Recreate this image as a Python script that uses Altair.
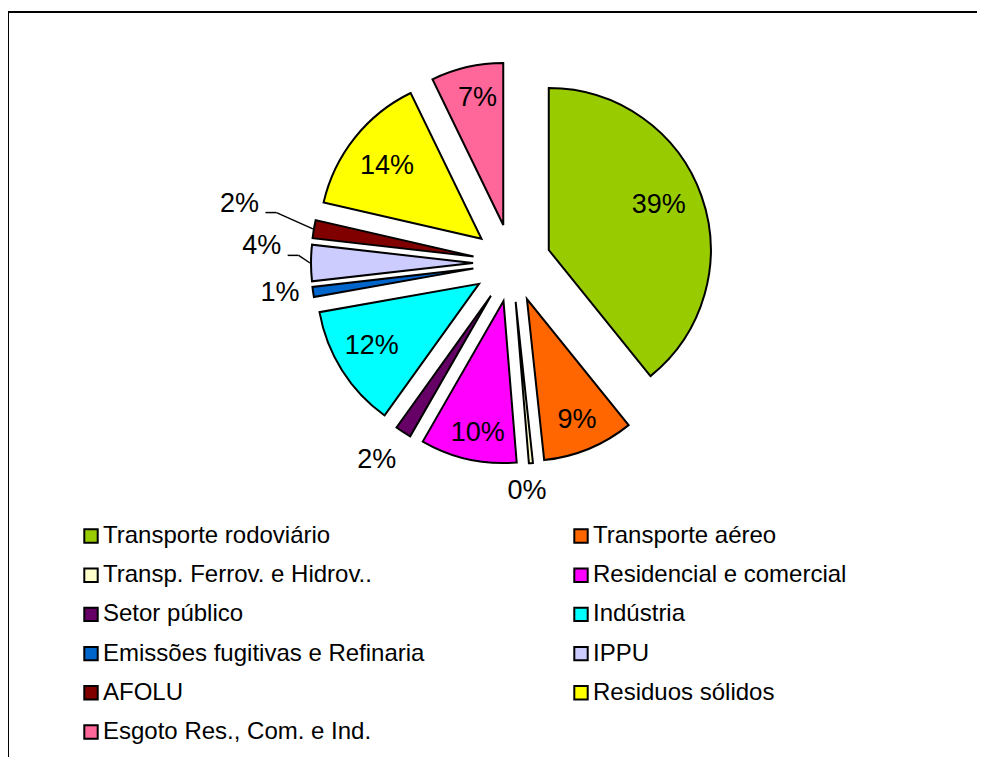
import altair as alt
import pandas as pd

# ---- data ----
categories = [
    "Transporte rodoviário",
    "Transporte aéreo",
    "Transp. Ferrov. e Hidrov..",
    "Residencial e comercial",
    "Setor público",
    "Indústria",
    "Emissões fugitivas e Refinaria",
    "IPPU",
    "AFOLU",
    "Residuos sólidos",
    "Esgoto Res., Com. e Ind.",
]
values = [39.2, 9.1, 0.4, 9.6, 1.6, 12.3, 1.0, 3.6, 1.8, 14.2, 7.2]
colors = ["#99CC00", "#FF6600", "#FFFFCC", "#FF00FF", "#660066", "#00FFFF",
          "#0066CC", "#CCCCFF", "#800000", "#FFFF00", "#FF6699"]

# label placement (distance from slice centre, small angular turn in degrees, leader line flag)
label_radius = [119, 131, 190, 134, 200, 124, 195, 212, 240, 119, 130]
label_turn = [-3, 0, 2, -1.5, 2, 2, 1, 4.5, 3, -1, 1.5]
leader = [0, 0, 0, 0, 0, 0, 0, 1, 1, 0, 0]

# legend entries are filled column by column: list them so rows read in series order
legend_order = categories[0::2] + categories[1::2]

# ---- layout ----
W, H = 969, 745
CX, CY = 504, 251          # pie centre inside the plot area
R = 162                    # pie radius
EXPLODE = 39               # explosion distance
FONT = "Arial, Liberation Sans, sans-serif"

df = pd.DataFrame({
    "category": categories,
    "value": values,
    "order": list(range(len(categories))),
    "lr": label_radius,
    "turn": label_turn,
    "leader": leader,
})

xs = alt.Scale(domain=[-CX, W - CX], zero=False, nice=False)
ys = alt.Scale(domain=[-(H - CY), CY], zero=False, nice=False)
ts = alt.Scale(domain=[0, 100], range=[0, 6.283185307179586])

base = alt.Chart(df).transform_window(
    cum="sum(value)", sort=[alt.SortField("order")], frame=[None, 0]
).transform_calculate(
    t0="datum.cum - datum.value",
    t1="datum.cum",
    mid="(datum.cum - datum.value/2) / 100 * 2 * PI",
).transform_calculate(
    ex=f"{EXPLODE} * sin(datum.mid)",
    ey=f"{EXPLODE} * cos(datum.mid)",
    la="datum.mid + datum.turn * PI / 180",
    pct="format(datum.value / 100, '.0%')",
).transform_calculate(
    lx="datum.ex + datum.lr * sin(datum.la)",
    ly="datum.ey + datum.lr * cos(datum.la)",
    edx=f"datum.ex + {R + 1} * sin(datum.mid)",
    edy=f"datum.ey + {R + 1} * cos(datum.mid)",
).transform_calculate(
    ax="datum.lx + 26",
    bx="datum.lx + 37",
    ay="datum.ly - 9",
)

arcs = base.mark_arc(outerRadius=R, stroke="black", strokeWidth=2).encode(
    x=alt.X("ex:Q", scale=xs, axis=None),
    y=alt.Y("ey:Q", scale=ys, axis=None),
    theta=alt.Theta("t0:Q", scale=ts, stack=None),
    theta2="t1:Q",
    color=alt.Color(
        "category:N",
        scale=alt.Scale(domain=categories, range=colors),
        legend=alt.Legend(
            title=None, orient="none", legendX=71, legendY=512, columns=2,
            values=legend_order,
            columnPadding=144, rowPadding=15.2, symbolType="square",
            symbolSize=180, symbolStrokeColor="black", symbolStrokeWidth=2,
            symbolOpacity=1, labelFont=FONT, labelFontSize=24,
            labelColor="black", labelOffset=0, labelLimit=600, padding=0,
        ),
    ),
    order=alt.Order("order:Q"),
)

labels = base.mark_text(font=FONT, fontSize=27, color="black",
                        align="center", baseline="middle").encode(
    x=alt.X("lx:Q", scale=xs, axis=None),
    y=alt.Y("ly:Q", scale=ys, axis=None),
    text="pct:N",
)

lead_data = base.transform_filter("datum.leader == 1")
lead1 = lead_data.mark_rule(color="black", strokeWidth=1.5).encode(
    x=alt.X("ax:Q", scale=xs, axis=None), x2="bx:Q",
    y=alt.Y("ay:Q", scale=ys, axis=None),
)
lead2 = lead_data.mark_rule(color="black", strokeWidth=1.5).encode(
    x=alt.X("bx:Q", scale=xs, axis=None), x2="edx:Q",
    y=alt.Y("ay:Q", scale=ys, axis=None), y2="edy:Q",
)

frame_data = alt.Data(values=[{"f": 1}])
top_line = alt.Chart(frame_data).mark_rule(color="black", strokeWidth=2).encode(
    x=alt.value(0), x2=alt.value(W), y=alt.value(0))
left_line = alt.Chart(frame_data).mark_rule(color="black", strokeWidth=2).encode(
    x=alt.value(0), y=alt.value(0), y2=alt.value(H))

chart = alt.layer(arcs, lead1, lead2, labels, top_line, left_line).properties(
    width=W, height=H,
    padding={"left": 0, "top": 4, "right": 0, "bottom": 0},
    autosize=alt.AutoSizeParams(type="none"),
    background="white",
).configure_view(stroke=None)

chart.save("out.html", embed_options={"renderer": "svg", "actions": False})
